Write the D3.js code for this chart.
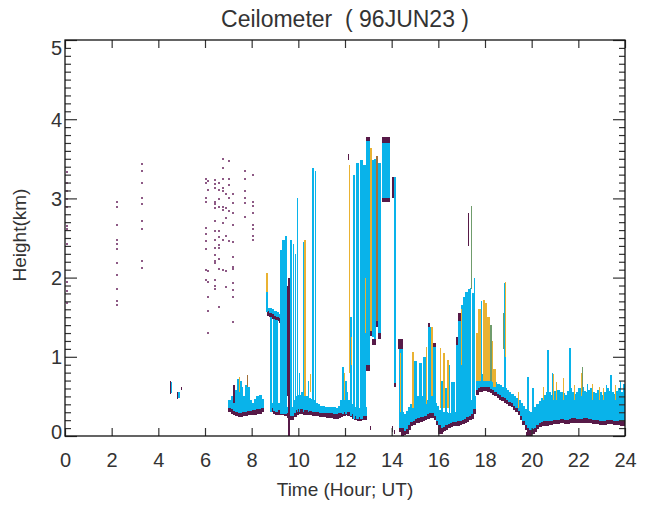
<!DOCTYPE html>
<html>
<head>
<meta charset="utf-8">
<script src="https://cdn.jsdelivr.net/npm/d3@7"></script>
<style>
  body { margin: 0; background: #fff; }
  text { font-family: "Liberation Sans", Arial, Helvetica, sans-serif; fill: #333; }
</style>
</head>
<body>
<div id="chart"></div>
<script>
// ---- data ----
const xTicks = [0, 2, 4, 6, 8, 10, 12, 14, 16, 18, 20, 22, 24];
const yTicks = [0, 1, 2, 3, 4, 5];

// scattered single returns: time (h), height (km)
const noiseT = [
  0.08, 0.08, 0.08, 0.08, 0.08, 0.08, 0.08, 0.08, 0.08, 0.08, 0.08,
  2.21, 2.21, 2.21, 2.21, 2.21, 2.21, 2.21, 2.21, 2.21, 2.21, 2.21,
  3.29, 3.29, 3.29, 3.29, 3.29, 3.29, 3.29, 3.29, 3.29,
  6.03, 6.03, 6.03, 6.03, 6.03, 6.03, 6.03, 6.03, 6.03, 6.03,
  6.14, 6.14, 6.14, 6.14, 6.14, 6.14, 6.14,
  6.43, 6.43, 6.43, 6.43, 6.43, 6.43, 6.43, 6.43, 6.43, 6.43, 6.43, 6.43, 6.43, 6.43, 6.43, 6.43,
  6.61, 6.61, 6.61, 6.61, 6.61, 6.61, 6.61, 6.61, 6.61, 6.61, 6.61,
  6.78, 6.78, 6.78, 6.78, 6.78, 6.78, 6.78, 6.78, 6.78, 6.78,
  6.89, 6.89, 6.89, 6.89, 6.89, 6.89,
  7.03, 7.03, 7.03, 7.03, 7.03, 7.03,
  7.19, 7.19, 7.19, 7.19, 7.19, 7.19, 7.19, 7.19, 7.19, 7.19, 7.19, 7.19,
  7.71, 7.71, 7.71, 7.71, 7.71, 7.71,
  8.07, 8.07, 8.07, 8.07, 8.07, 8.07, 8.07, 8.07
];
const noiseH = [
  3.33, 3.20, 3.09, 2.99, 2.89, 2.65, 2.61, 2.43, 1.94, 1.83, 1.68,
  2.95, 2.89, 2.66, 2.48, 2.42, 2.36, 2.18, 2.03, 1.85, 1.70, 1.65,
  3.44, 3.34, 3.20, 3.01, 2.93, 2.72, 2.61, 2.21, 2.12,
  3.24, 3.20, 3.00, 2.95, 2.62, 2.55, 2.46, 2.36, 2.09, 1.97,
  3.22, 3.11, 2.08, 1.95, 1.75, 1.58, 1.30,
  3.23, 3.18, 3.13, 2.96, 2.93, 2.88, 2.71, 2.59, 2.48, 2.38, 2.28, 2.21, 2.18, 1.97, 1.89, 1.85,
  3.19, 3.10, 2.99, 2.89, 2.59, 2.51, 2.41, 2.37, 2.24, 2.11, 1.63,
  3.50, 3.38, 3.25, 3.13, 3.09, 2.89, 2.85, 2.69, 2.48, 2.09,
  3.06, 2.88, 2.75, 2.53, 2.08, 1.88,
  3.47, 3.25, 3.17, 3.01, 2.84, 2.46,
  3.06, 2.94, 2.82, 2.66, 2.45, 2.26, 2.14, 2.11, 1.93, 1.84, 1.75, 1.44,
  3.34, 3.24, 3.09, 3.01, 2.94, 2.76,
  3.29, 2.96, 2.90, 2.81, 2.67, 2.61, 2.53, 2.47
];

// boundary-layer segments: [time, base (km), top (km)]
const layerMorning = [
  [7.0, 0.30, 0.45], [7.1, 0.28, 0.50], [7.2, 0.26, 0.47], [7.3, 0.25, 0.58], [7.4, 0.24, 0.66],
  [7.5, 0.24, 0.62], [7.6, 0.25, 0.50], [7.7, 0.25, 0.52], [7.8, 0.26, 0.62], [7.9, 0.26, 0.45],
  [8.0, 0.27, 0.42], [8.1, 0.27, 0.47], [8.2, 0.28, 0.50], [8.3, 0.28, 0.52], [8.4, 0.30, 0.47]
];
const layerElevated = [
  [8.65, 1.52, 1.62], [8.75, 1.50, 1.61], [8.85, 1.48, 1.60], [8.95, 1.46, 1.58],
  [9.05, 1.45, 1.56], [9.15, 1.43, 1.54]
];
const layerMidday = [
  [8.8, 0.30, 0.42], [8.9, 0.28, 0.40], [9.0, 0.27, 0.40], [9.1, 0.27, 0.42], [9.2, 0.26, 0.40],
  [9.3, 0.26, 0.38], [9.4, 0.25, 0.38], [9.5, 0.23, 0.36], [9.6, 0.20, 0.35], [9.7, 0.20, 0.36],
  [9.8, 0.24, 0.45], [9.9, 0.27, 0.50], [10.0, 0.28, 0.52], [10.1, 0.28, 0.55], [10.2, 0.27, 0.52],
  [10.3, 0.27, 0.50], [10.4, 0.26, 0.48], [10.5, 0.26, 0.47], [10.6, 0.25, 0.45], [10.7, 0.25, 0.42],
  [10.8, 0.25, 0.40], [10.9, 0.24, 0.38], [11.0, 0.24, 0.38], [11.1, 0.24, 0.37], [11.2, 0.23, 0.36],
  [11.3, 0.23, 0.36], [11.4, 0.23, 0.37], [11.5, 0.22, 0.36], [11.6, 0.22, 0.35], [11.7, 0.23, 0.38],
  [11.8, 0.24, 0.45], [11.9, 0.25, 0.60], [12.0, 0.26, 0.55], [12.1, 0.25, 0.45], [12.2, 0.24, 0.40],
  [12.3, 0.22, 0.38], [12.4, 0.20, 0.36], [12.5, 0.19, 0.35], [12.6, 0.19, 0.35], [12.7, 0.20, 0.35],
  [12.8, 0.20, 0.36]
];
const layerAfternoon = [
  [14.3, 0.05, 0.35], [14.4, 0.02, 0.30], [14.5, 0.01, 0.28], [14.6, 0.03, 0.32], [14.7, 0.08, 0.36],
  [14.8, 0.12, 0.40], [14.9, 0.14, 0.45], [15.0, 0.16, 0.48], [15.1, 0.17, 0.50], [15.2, 0.18, 0.50],
  [15.3, 0.19, 0.48], [15.4, 0.20, 0.47], [15.5, 0.22, 0.46], [15.6, 0.23, 0.47], [15.7, 0.23, 0.45],
  [15.8, 0.20, 0.42], [15.9, 0.14, 0.38], [16.0, 0.08, 0.33], [16.1, 0.05, 0.30], [16.2, 0.06, 0.30],
  [16.3, 0.08, 0.30], [16.4, 0.10, 0.29], [16.5, 0.11, 0.28], [16.6, 0.12, 0.29], [16.7, 0.12, 0.30],
  [16.8, 0.13, 0.32], [16.9, 0.14, 0.35], [17.0, 0.15, 0.38], [17.1, 0.16, 0.40], [17.2, 0.18, 0.42],
  [17.3, 0.20, 0.45], [17.4, 0.22, 0.45], [17.5, 0.28, 0.50], [17.6, 0.52, 0.72], [17.7, 0.55, 0.76],
  [17.8, 0.56, 0.78], [17.9, 0.57, 0.78], [18.0, 0.57, 0.77], [18.1, 0.56, 0.76], [18.2, 0.54, 0.74],
  [18.3, 0.52, 0.71], [18.4, 0.50, 0.68], [18.5, 0.48, 0.66], [18.6, 0.46, 0.64], [18.7, 0.44, 0.62],
  [18.8, 0.42, 0.60], [18.9, 0.40, 0.58], [19.0, 0.38, 0.56], [19.1, 0.36, 0.53], [19.2, 0.33, 0.50],
  [19.3, 0.30, 0.48], [19.4, 0.26, 0.46], [19.5, 0.20, 0.42], [19.6, 0.14, 0.38], [19.7, 0.08, 0.34],
  [19.8, 0.04, 0.32], [19.9, 0.02, 0.30], [20.0, 0.03, 0.32], [20.1, 0.05, 0.36], [20.2, 0.09, 0.40],
  [20.3, 0.11, 0.44], [20.4, 0.12, 0.48], [20.5, 0.13, 0.52], [20.6, 0.13, 0.55], [20.7, 0.14, 0.56],
  [20.8, 0.14, 0.52], [20.9, 0.15, 0.57], [21.0, 0.15, 0.55], [21.1, 0.15, 0.58], [21.2, 0.16, 0.56],
  [21.3, 0.16, 0.54], [21.4, 0.15, 0.52], [21.5, 0.15, 0.57], [21.6, 0.16, 0.60], [21.7, 0.17, 0.56],
  [21.8, 0.17, 0.53], [21.9, 0.16, 0.56], [22.0, 0.16, 0.60], [22.1, 0.16, 0.62], [22.2, 0.17, 0.57],
  [22.3, 0.17, 0.55], [22.4, 0.16, 0.58], [22.5, 0.16, 0.60], [22.6, 0.15, 0.56], [22.7, 0.15, 0.54],
  [22.8, 0.15, 0.58], [22.9, 0.14, 0.55], [23.0, 0.14, 0.52], [23.1, 0.14, 0.56], [23.2, 0.15, 0.60],
  [23.3, 0.15, 0.57], [23.4, 0.15, 0.55], [23.5, 0.14, 0.53], [23.6, 0.14, 0.57], [23.7, 0.14, 0.60],
  [23.8, 0.13, 0.56], [23.9, 0.13, 0.54]
];

// vertical returns: [start (h), end (h), bottom (km), top (km)]
const cyanCols = [
  [4.50, 4.60, 0.54, 0.68], [4.84, 4.92, 0.48, 0.55],
  [7.35, 7.45, 0.30, 0.72], [7.52, 7.58, 0.30, 0.70], [7.72, 7.78, 0.30, 0.65],
  [8.62, 8.70, 1.57, 1.82],
  [8.78, 8.86, 0.30, 1.50], [8.90, 8.98, 0.32, 1.48], [9.02, 9.12, 0.30, 1.46],
  [9.20, 9.28, 0.28, 2.35], [9.32, 9.42, 0.28, 2.47], [9.44, 9.50, 0.28, 2.53],
  [9.66, 9.74, 0.28, 2.48], [9.76, 9.82, 0.28, 2.43], [9.85, 9.90, 0.30, 2.30],
  [9.93, 9.99, 0.30, 3.00], [10.03, 10.08, 0.30, 0.80], [10.18, 10.22, 0.30, 2.45],
  [10.40, 10.46, 0.30, 0.70], [10.60, 10.65, 0.30, 3.38], [10.70, 10.75, 0.30, 3.35],
  [11.85, 11.95, 0.28, 0.87], [12.00, 12.08, 0.28, 0.70],
  [12.22, 12.30, 0.25, 1.50], [12.33, 12.43, 0.22, 3.29], [12.47, 12.60, 0.22, 3.45],
  [12.63, 12.75, 0.22, 3.48], [12.78, 12.88, 0.25, 3.42], [12.90, 13.05, 0.88, 3.76],
  [13.17, 13.25, 1.25, 3.48], [13.25, 13.32, 1.20, 3.50], [13.42, 13.55, 1.30, 3.45],
  [13.60, 13.92, 3.00, 3.72], [14.10, 14.18, 0.67, 3.27],
  [14.30, 14.47, 0.20, 1.12], [14.95, 15.10, 0.30, 0.95], [15.15, 15.30, 0.30, 0.92],
  [15.35, 15.50, 0.30, 1.00], [15.55, 15.75, 0.30, 1.38], [15.78, 15.90, 0.30, 1.15],
  [16.10, 16.20, 0.25, 0.70], [16.28, 16.36, 0.25, 0.60], [16.45, 16.52, 0.25, 0.90],
  [16.55, 16.70, 0.22, 0.68],
  [16.75, 16.85, 0.25, 1.20], [16.85, 16.95, 0.25, 1.50], [16.95, 17.05, 0.28, 1.65],
  [17.05, 17.15, 0.30, 1.75], [17.15, 17.25, 0.30, 1.82], [17.25, 17.35, 0.32, 1.85],
  [17.35, 17.42, 0.35, 1.87], [17.46, 17.52, 0.35, 1.80], [17.52, 17.58, 0.35, 2.00],
  [17.82, 17.88, 0.70, 1.70], [18.82, 18.88, 0.55, 1.93],
  [19.82, 19.89, 0.20, 0.74], [20.02, 20.09, 0.22, 0.60], [20.67, 20.74, 0.40, 1.08],
  [20.87, 20.93, 0.40, 0.79], [21.62, 21.69, 0.40, 1.11], [22.37, 22.43, 0.40, 0.66],
  [23.17, 23.23, 0.40, 0.64], [23.37, 23.44, 0.40, 0.77], [23.77, 23.84, 0.40, 0.70],
  [23.91, 23.98, 0.40, 0.66]
];
const goldCols = [
  [7.45, 7.52, 0.55, 0.74], [8.62, 8.70, 1.82, 2.06], [10.24, 10.34, 0.50, 2.47],
  [10.50, 10.56, 0.55, 0.78], [11.95, 12.00, 0.45, 0.80], [12.15, 12.19, 1.21, 3.42],
  [12.15, 12.22, 0.80, 1.21], [12.26, 12.30, 0.90, 1.25], [12.84, 12.88, 1.30, 2.00],
  [13.07, 13.17, 1.33, 3.64], [14.35, 14.42, 0.30, 1.05], [14.88, 14.97, 0.35, 1.06],
  [15.48, 15.53, 0.40, 1.12], [15.68, 15.75, 0.50, 1.38], [16.05, 16.12, 0.35, 1.11],
  [16.18, 16.28, 0.35, 1.05], [16.36, 16.45, 0.35, 0.96], [16.95, 17.00, 0.90, 1.60],
  [17.62, 17.72, 0.70, 1.30], [17.72, 17.82, 0.70, 1.60], [17.90, 18.00, 0.70, 1.72],
  [18.00, 18.10, 0.70, 1.68], [18.10, 18.20, 0.70, 1.50], [18.28, 18.36, 0.68, 1.20],
  [18.36, 18.45, 0.62, 0.85], [18.86, 18.90, 1.00, 1.95], [19.40, 19.44, 0.35, 0.55],
  [20.48, 20.52, 0.45, 0.62], [20.90, 20.95, 0.45, 0.78], [21.05, 21.10, 0.45, 0.68],
  [21.33, 21.38, 0.45, 0.73], [21.80, 21.85, 0.45, 0.64], [22.13, 22.17, 0.50, 0.80],
  [22.58, 22.63, 0.45, 0.66], [22.88, 22.93, 0.45, 0.62], [23.05, 23.09, 0.45, 0.60],
  [23.58, 23.63, 0.45, 0.64]
];
const greenCols = [
  [17.40, 17.46, 1.85, 2.91], [18.20, 18.28, 0.70, 1.40], [18.78, 18.82, 1.10, 1.55],
  [22.15, 22.19, 0.55, 0.87]
];
const brownCols = [
  [7.78, 7.84, 0.62, 0.77], [13.33, 13.41, 1.45, 3.54]
];
const purpleCols = [
  [4.48, 4.51, 0.53, 0.70], [4.82, 4.84, 0.47, 0.55], [4.95, 5.00, 0.58, 0.62],
  [7.19, 7.29, 0.42, 0.65], [9.50, 9.55, 0.50, 1.90], [9.55, 9.64, 0.00, 2.00],
  [12.12, 12.17, 3.48, 3.56], [12.90, 13.05, 0.82, 0.90], [12.90, 13.05, 3.72, 3.78],
  [13.07, 13.17, 1.26, 1.33], [13.17, 13.32, 1.15, 1.22], [13.33, 13.41, 1.38, 1.45],
  [13.42, 13.55, 1.22, 1.30], [13.60, 13.92, 3.70, 3.77], [13.60, 13.92, 2.95, 3.00],
  [14.02, 14.10, 3.00, 3.27], [14.10, 14.18, 0.62, 0.67], [14.27, 14.49, 1.10, 1.22],
  [14.38, 14.52, 0.00, 0.10], [14.02, 14.06, 0.05, 0.12], [14.12, 14.16, 0.02, 0.08],
  [13.05, 13.10, 0.08, 0.12], [15.55, 15.65, 1.38, 1.43], [15.78, 15.90, 1.12, 1.18],
  [16.00, 16.20, 0.02, 0.08], [16.75, 16.85, 1.15, 1.25], [16.85, 16.95, 1.45, 1.55],
  [17.27, 17.32, 2.40, 2.82], [19.75, 20.00, 0.00, 0.05]
];

// ---- layout ----
const width = 646, height = 506;
const margin = { top: 40, right: 21, bottom: 70, left: 65 };
const innerW = width - margin.left - margin.right;
const innerH = height - margin.top - margin.bottom;

const colors = {
  purple: "#571a48",
  cyan: "#09b3ea",
  gold: "#e9b232",
  green: "#6f9c6c",
  brown: "#a3713a",
  noise: "#8e5a86"
};
const edge = 0.055; // km of dark edge under each layer

const svg = d3.select("#chart").append("svg")
  .attr("width", width)
  .attr("height", height);

const x = d3.scaleLinear().domain([0, 24]).range([0, innerW]);
const y = d3.scaleLinear().domain([0, 5]).range([innerH, 0]);

svg.append("defs").append("clipPath").attr("id", "plotclip")
  .append("rect").attr("width", innerW).attr("height", innerH);

const g = svg.append("g").attr("transform", `translate(${margin.left},${margin.top})`);
const plot = g.append("g").attr("clip-path", "url(#plotclip)")
  .attr("shape-rendering", "crispEdges");

// layers: dark base edge then cyan body
function drawLayer(rows) {
  const w = (i) => (i < rows.length - 1 ? rows[i + 1][0] - rows[i][0] : rows[1][0] - rows[0][0]);
  rows.forEach((r, i) => {
    const x0 = x(r[0]), x1 = x(r[0] + w(i));
    plot.append("rect")
      .attr("x", x0).attr("width", x1 - x0 + 0.5)
      .attr("y", y(r[1] + edge)).attr("height", y(r[1]) - y(r[1] + edge))
      .attr("fill", colors.purple);
    plot.append("rect")
      .attr("x", x0).attr("width", x1 - x0 + 0.5)
      .attr("y", y(r[2])).attr("height", y(r[1] + edge) - y(r[2]))
      .attr("fill", colors.cyan);
  });
}

function drawCols(cols, fill) {
  plot.append("g").selectAll("rect")
    .data(cols)
    .join("rect")
    .attr("x", d => x(d[0]))
    .attr("width", d => Math.max(1, x(d[1]) - x(d[0])))
    .attr("y", d => y(d[3]))
    .attr("height", d => y(d[2]) - y(d[3]))
    .attr("fill", fill);
}

[layerMorning, layerElevated, layerMidday, layerAfternoon].forEach(drawLayer);
drawCols(cyanCols, colors.cyan);
drawCols(goldCols, colors.gold);
drawCols(greenCols, colors.green);
drawCols(brownCols, colors.brown);
drawCols(purpleCols, colors.purple);

plot.append("g").selectAll("rect")
  .data(noiseT.map((t, i) => [t, noiseH[i]]))
  .join("rect")
  .attr("x", d => x(d[0]) - 1)
  .attr("y", d => y(d[1]) - 1)
  .attr("width", 2).attr("height", 2)
  .attr("fill", colors.noise);

// ---- axes (IDL style: ticks point inward, boxed) ----
const minorY = d3.range(0, 5.001, 0.1).filter(v => Math.abs(v - Math.round(v)) > 0.01);

const xb = g.append("g").attr("transform", `translate(0,${innerH})`)
  .call(d3.axisBottom(x).tickValues(xTicks).tickSize(-8).tickPadding(17).tickFormat(d3.format("d")));
const xt = g.append("g")
  .call(d3.axisTop(x).tickValues(xTicks).tickSize(-8).tickFormat(""));
const yl = g.append("g")
  .call(d3.axisLeft(y).tickValues(yTicks).tickSize(-12).tickPadding(3).tickFormat(d3.format("d")));
const ylm = g.append("g")
  .call(d3.axisLeft(y).tickValues(minorY).tickSize(-6).tickFormat(""));
const yr = g.append("g").attr("transform", `translate(${innerW},0)`)
  .call(d3.axisRight(y).tickValues(yTicks).tickSize(-12).tickFormat(""));
const yrm = g.append("g").attr("transform", `translate(${innerW},0)`)
  .call(d3.axisRight(y).tickValues(minorY).tickSize(-6).tickFormat(""));

[xb, xt, yl, ylm, yr, yrm].forEach(a => {
  a.select(".domain").remove();
  a.selectAll("line").attr("stroke", "#333").attr("stroke-width", 1.2);
  a.selectAll("text").style("font-size", "20px").attr("fill", "#333");
});
// end labels sit inside the frame, as in the original
yl.selectAll("text").attr("dy", d => d === 5 ? "0.72em" : d === 0 ? "0.1em" : "0.35em");

g.append("rect")
  .attr("width", innerW).attr("height", innerH)
  .attr("fill", "none").attr("stroke", "#111").attr("stroke-width", 1.3);

// ---- titles ----
svg.append("text")
  .attr("x", 345).attr("y", 27)
  .attr("text-anchor", "middle")
  .style("font-size", "23px")
  .style("white-space", "pre")
  .attr("xml:space", "preserve")
  .text("Ceilometer  ( 96JUN23 )");

svg.append("text")
  .attr("x", 345).attr("y", 496)
  .attr("text-anchor", "middle")
  .style("font-size", "19px")
  .text("Time (Hour; UT)");

svg.append("text")
  .attr("transform", "translate(26,235) rotate(-90)")
  .attr("text-anchor", "middle")
  .style("font-size", "19px")
  .text("Height(km)");
</script>
</body>
</html>
